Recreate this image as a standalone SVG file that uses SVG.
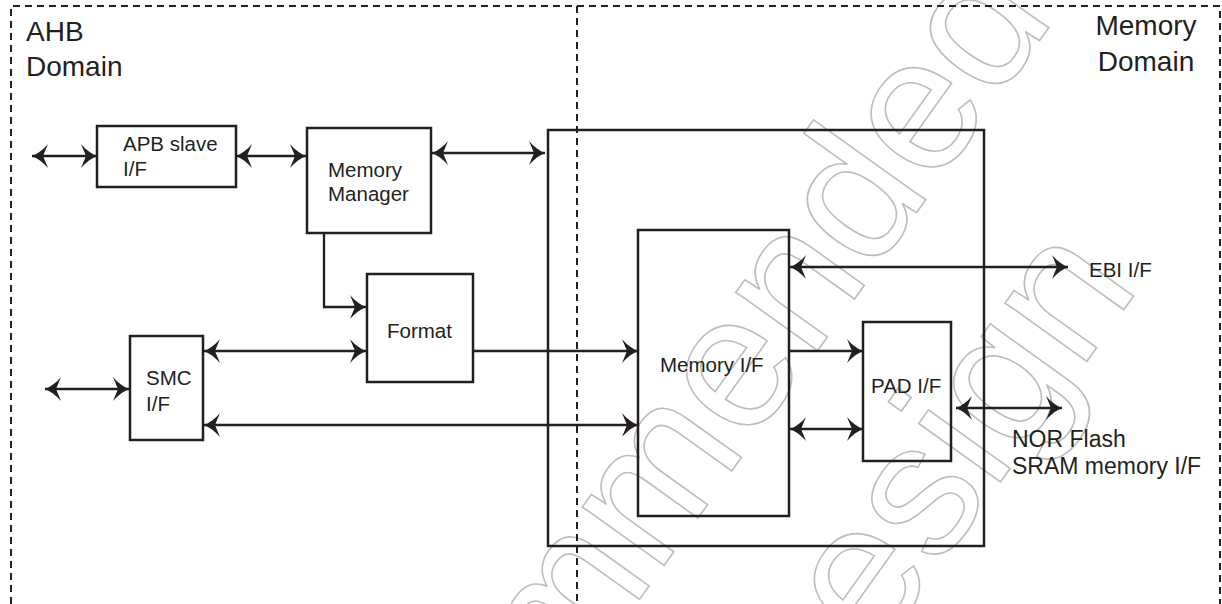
<svg xmlns="http://www.w3.org/2000/svg" width="1222" height="604" viewBox="0 0 1222 604">
  <style>
    .dash { fill: none; stroke: #231f20; stroke-width: 2; stroke-dasharray: 7 5; }
    .box { fill: none; stroke: #231f20; stroke-width: 2.5; }
    .conn { fill: none; stroke: #231f20; stroke-width: 2.3; }
    .lbl { font-family: "Liberation Sans", Arial, Helvetica, sans-serif; font-size: 20.5px; fill: #231f20; }
    .big { font-size: 28px; }
    .mid { font-size: 23px; }
    .wm { font-family: "Liberation Sans", Arial, Helvetica, sans-serif; font-size: 190px; fill: none; stroke: #bdbdbd; stroke-width: 1.6; }
  </style>
  <defs>
    <marker id="ah" viewBox="-17 -13 18 26" refX="0" refY="0" markerWidth="18" markerHeight="26" markerUnits="userSpaceOnUse" orient="auto-start-reverse">
      <path d="M0,0 C-5,-2 -11,-6 -16,-12 L-11,0 L-16,12 C-11,6 -5,2 0,0 Z" fill="#231f20"/>
    </marker>
  </defs>
  <rect width="1222" height="604" fill="#ffffff"/>

  <g id="watermark" transform="rotate(-54.4)">
    <text class="wm" x="-218" y="869" text-anchor="middle">Not Recommended</text>
    <text class="wm" x="-218" y="1094" text-anchor="middle">for New Design</text>
  </g>

  <g id="domains">
    <path class="dash" d="M11,604 V6 H1220 V604"/>
    <path class="dash" d="M577,6 V604"/>
    <text class="lbl big" x="26" y="41">AHB</text>
    <text class="lbl big" x="26" y="76">Domain</text>
    <text class="lbl big" x="1146" y="35" text-anchor="middle">Memory</text>
    <text class="lbl big" x="1146" y="71" text-anchor="middle">Domain</text>
  </g>

  <g id="apb-slave">
    <rect class="box" x="97" y="126" width="139" height="61"/>
    <text class="lbl" x="123" y="151">APB slave</text>
    <text class="lbl" x="123" y="176">I/F</text>
  </g>
  <g id="memory-manager">
    <rect class="box" x="307" y="128" width="124" height="105"/>
    <text class="lbl" x="328" y="177">Memory</text>
    <text class="lbl" x="328" y="201">Manager</text>
  </g>
  <g id="format">
    <rect class="box" x="367" y="274" width="106" height="108"/>
    <text class="lbl" x="387" y="338">Format</text>
  </g>
  <g id="smc">
    <rect class="box" x="130" y="336" width="73" height="104"/>
    <text class="lbl" x="146" y="385">SMC</text>
    <text class="lbl" x="146" y="411">I/F</text>
  </g>
  <g id="memory-block">
    <rect class="box" x="548" y="130" width="436" height="416"/>
  </g>
  <g id="memory-if">
    <rect class="box" x="638" y="230" width="151" height="286"/>
    <text class="lbl" x="660" y="372">Memory I/F</text>
  </g>
  <g id="pad-if">
    <rect class="box" x="863" y="322" width="88" height="139"/>
    <text class="lbl" x="871" y="393">PAD I/F</text>
  </g>
  <g id="ebi-if">
    <text class="lbl" x="1089" y="277">EBI I/F</text>
  </g>
  <g id="nor-sram">
    <text class="lbl mid" x="1012" y="447">NOR Flash</text>
    <text class="lbl mid" x="1012" y="474">SRAM memory I/F</text>
  </g>

  <g id="connectors">
    <path class="conn" d="M32,156 H97" marker-start="url(#ah)" marker-end="url(#ah)"/>
    <path class="conn" d="M236,156 H306" marker-start="url(#ah)" marker-end="url(#ah)"/>
    <path class="conn" d="M432,153 H545" marker-start="url(#ah)" marker-end="url(#ah)"/>
    <path class="conn" d="M324,233 V307 H366" marker-end="url(#ah)"/>
    <path class="conn" d="M204,351 H366" marker-start="url(#ah)" marker-end="url(#ah)"/>
    <path class="conn" d="M473,351 H638" marker-end="url(#ah)"/>
    <path class="conn" d="M204,425 H638" marker-start="url(#ah)" marker-end="url(#ah)"/>
    <path class="conn" d="M45,389 H129" marker-start="url(#ah)" marker-end="url(#ah)"/>
    <path class="conn" d="M790,267 H1068" marker-start="url(#ah)" marker-end="url(#ah)"/>
    <path class="conn" d="M790,351 H863" marker-end="url(#ah)"/>
    <path class="conn" d="M790,429 H863" marker-start="url(#ah)" marker-end="url(#ah)"/>
    <path class="conn" d="M956,408 H1062" marker-start="url(#ah)" marker-end="url(#ah)"/>
  </g>
</svg>
